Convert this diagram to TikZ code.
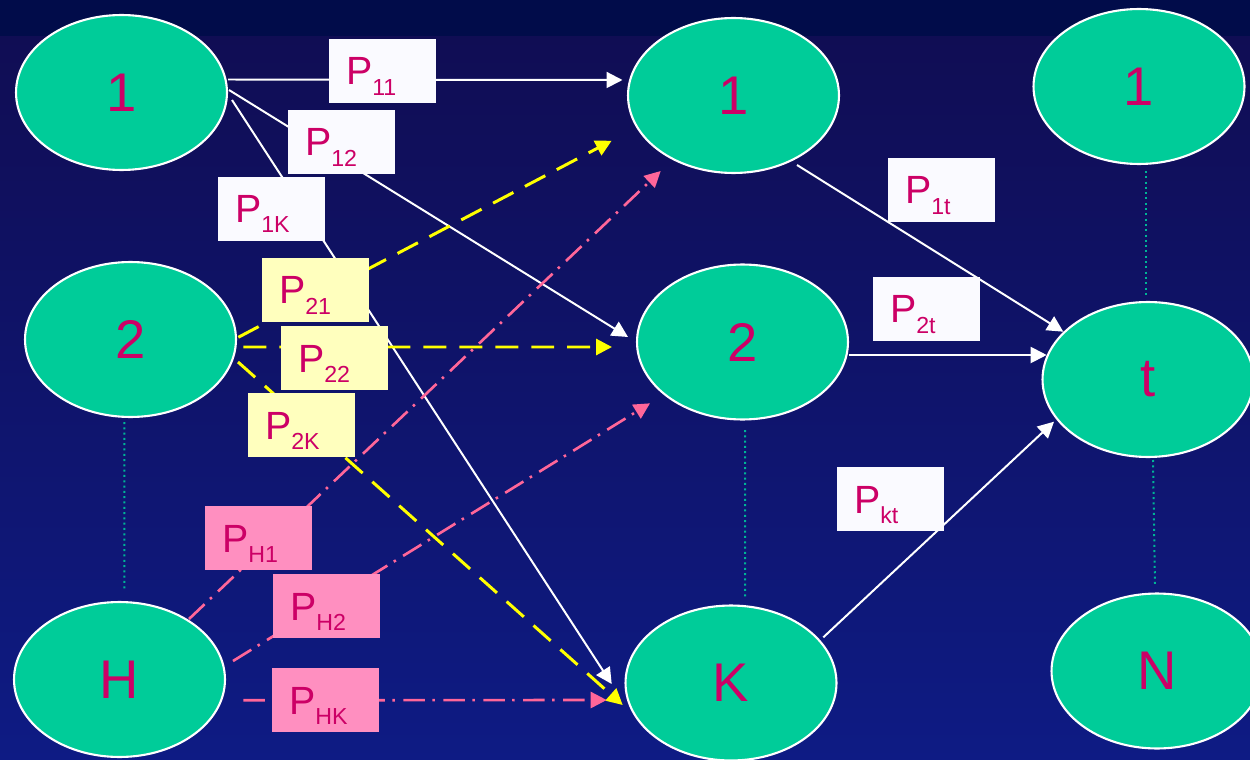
\documentclass[tikz,border=0pt]{standalone}
\usepackage{fontspec}
\setmainfont{Liberation Sans}
\usetikzlibrary{shapes.geometric,arrows.meta,calc}
\definecolor{bgtop}{RGB}{1,12,74}
\definecolor{bgA}{RGB}{16,13,84}
\definecolor{bgM}{RGB}{13,22,116}
\definecolor{bgB}{RGB}{14,27,132}
\definecolor{nodefill}{RGB}{0,204,153}
\definecolor{txtmag}{RGB}{204,0,102}
\definecolor{wbox}{RGB}{250,250,255}
\definecolor{ybox}{RGB}{255,255,190}
\definecolor{pbox}{RGB}{255,143,192}
\definecolor{pline}{RGB}{255,102,153}
\definecolor{yline}{RGB}{255,255,0}
\definecolor{dotteal}{RGB}{0,180,150}
\newcommand\Psub[1]{P\raisebox{-5.7pt}{\fontsize{13.2}{14}\selectfont #1}}
\begin{document}
\begin{tikzpicture}[x=0.02cm,y=-0.02cm,
  state/.style={ellipse, draw=white, line width=1.2pt, fill=nodefill,
    minimum width=4.22cm, minimum height=3.1cm, inner sep=0pt,
    text=txtmag, font=\fontsize{31}{31}\selectfont},
  lab/.style={rectangle, inner xsep=0.34cm, inner ysep=0pt, text width=1.46cm,
    align=left, text height=0.92cm, text depth=0.36cm, text=txtmag,
    font=\fontsize{22.4}{24}\selectfont},
  wlab/.style={lab, fill=wbox},
  ylab/.style={lab, fill=ybox},
  plab/.style={lab, fill=pbox},
  tip/.style={-{Triangle[length=0.32cm,width=0.32cm]}},
  sol/.style={draw=white, line width=1.13pt, tip},
  ydash/.style={draw=yline, line width=1.7pt, dash pattern=on 0.46cm off 0.26cm, tip},
  pdash/.style={draw=pline, line width=1.5pt,
    dash pattern=on 0.43cm off 0.15cm on 0.05cm off 0.17cm, tip},
  dots/.style={draw=dotteal, line width=1.13pt, dash pattern=on 0.04cm off 0.066cm}
]
\useasboundingbox (0,0) rectangle (1250,760);
\clip (0,0) rectangle (1250,760);
% background
\fill[bgtop] (0,0) rectangle (1250,37);
\shade[top color=bgA, middle color=bgM, bottom color=bgB] (0,37) rectangle (1250,760);

% states
\node[state] (L1) at (121.5,92.5) {1};
\node[state] (L2) at (130.5,339.5) {2};
\node[state] (LH) at (119.5,679.5) {H};
\node[state] (M1) at (733.5,95.5) {1};
\node[state] (M2) at (742.5,342) {2};
\node[state] (MK) at (731,683) {K};
\node[state] (R1) at (1139,86.5) {1};
\node[state] (Rt) at (1148,379.5) {t};
\node[state] (RN) at (1157,671) {N};

% dotted continuation lines
\draw[dots] ($(L2)+(-6.2,82.5)$) -- ($(LH)+(4.8,-90.5)$);
\draw[dots] ($(M2)+(2.5,88)$) -- ($(MK)+(14,-86)$);
\draw[dots] ($(R1)+(7,84.5)$) -- ($(Rt)+(-2,-83.5)$);
\draw[dots] ($(Rt)+(5,80.5)$) -- ($(RN)+(-2,-86)$);

% white connectors from 1
\draw[sol] ($(L1)+(106.5,-13)$) -- ($(M1)+(-111,-15.5)$);
\draw[sol] ($(L1)+(107.5,-2.5)$) -- ($(M2)+(-114.5,-5)$);
\draw[sol] ($(L1)+(110.5,7.5)$) -- ($(MK)+(-119.3,1)$);
% yellow connectors from 2
\draw[ydash] ($(L2)+(107.8,-2.2)$) -- ($(M1)+(-121.8,45.2)$);
\draw[ydash] ($(L2)+(112.8,7.5)$) -- ($(M2)+(-130.5,5)$);
\draw[ydash] ($(L2)+(107.5,22.5)$) -- ($(MK)+(-108.3,22)$);
% pink connectors from H
\draw[pdash] ($(LH)+(69.5,-60.5)$) -- ($(M1)+(-72.8,75.5)$);
\draw[pdash] ($(LH)+(113.5,-18.5)$) -- ($(M2)+(-92.5,61.3)$);
\draw[pdash] ($(LH)+(123.8,20.8)$) -- ($(MK)+(-124.3,17)$);
% white connectors to t
\draw[sol] ($(M1)+(63.5,69.5)$) -- ($(Rt)+(-84.7,-47.8)$);
\draw[sol] ($(M2)+(106,13)$) -- ($(Rt)+(-101.3,-24.5)$);
\draw[sol] ($(MK)+(92.3,-45.7)$) -- ($(Rt)+(-94,42.2)$);

% labels
\node[wlab] (p11) at (382.5,71) {\Psub{11}};
\node[wlab] (p12) at (341.5,142) {\Psub{12}};
\node[wlab] (p1K) at (271.5,208.7) {\Psub{1K}};
\node[ylab] (p21) at (315.5,290) {\Psub{21}};
\node[ylab] (p22) at (334.5,358) {\Psub{22}};
\node[ylab] (p2K) at (301.5,425) {\Psub{2K}};
\node[plab] (pH1) at (258.5,538) {\Psub{H1}};
\node[plab] (pH2) at (326.5,606) {\Psub{H2}};
\node[plab] (pHK) at (325.5,700) {\Psub{HK}};
\node[wlab] (p1t) at (941.5,190) {\Psub{1t}};
\node[wlab] (p2t) at (926.5,309) {\Psub{2t}};
\node[wlab] (pkt) at (890.5,499) {\Psub{kt}};
\end{tikzpicture}
\end{document}
